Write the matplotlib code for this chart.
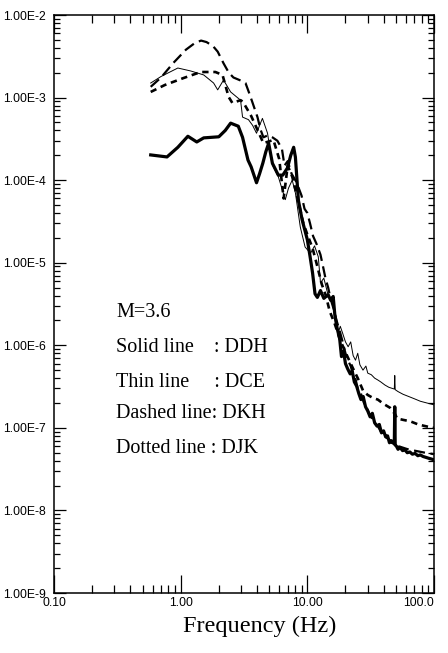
import numpy as np
import matplotlib
matplotlib.use("Agg")
import matplotlib.pyplot as plt
from matplotlib.ticker import LogLocator, FixedLocator, FixedFormatter, FuncFormatter, NullFormatter

# Fourier spectra, M=3.6 event, four stations: (frequency Hz, amplitude)
ddh = [(0.58, 2.02e-4), (0.78, 1.91e-4), (0.95, 2.5e-4), (1.14, 3.4e-4), (1.34, 2.9e-4),
       (1.52, 3.25e-4), (1.75, 3.3e-4), (2.0, 3.35e-4), (2.25, 4.0e-4), (2.48, 4.9e-4),
       (2.85, 4.5e-4), (3.08, 3.3e-4), (3.4, 1.75e-4), (3.6, 1.45e-4), (3.97, 9.3e-5),
       (4.2, 1.2e-4), (4.45, 1.6e-4), (4.7, 2.2e-4), (4.95, 2.8e-4), (5.3, 1.6e-4),
       (5.9, 1.15e-4), (6.4, 1.15e-4), (6.96, 1.4e-4), (7.4, 2.0e-4), (7.8, 2.5e-4),
       (8.05, 1.9e-4), (8.5, 5.7e-5), (9.1, 3.3e-5), (10.0, 1.9e-5), (10.5, 1.2e-5),
       (11.0, 7.5e-6), (11.5, 4.2e-6), (12.0, 3.8e-6), (12.7, 4.6e-6), (13.5, 3.7e-6),
       (14.6, 4.1e-6), (15.3, 3.5e-6), (16.0, 3.9e-6), (16.5, 2.3e-6), (17.2, 1.6e-6),
       (18.0, 1.2e-6), (18.6, 7.3e-7), (19.3, 8.5e-7), (20.0, 6.0e-7), (20.8, 5.2e-7),
       (21.8, 4.5e-7), (22.6, 4.9e-7), (23.5, 3.6e-7), (24.5, 3.2e-7), (25.5, 2.6e-7),
       (26.5, 2.2e-7), (27.6, 2.4e-7), (28.8, 1.8e-7), (30.0, 1.6e-7), (31.3, 1.36e-7),
       (32.6, 1.5e-7), (34.0, 1.15e-7), (35.5, 1.05e-7), (37.0, 1.1e-7), (38.5, 8.7e-8),
       (40.0, 9.2e-8), (41.5, 7.8e-8), (43.0, 8.0e-8), (44.5, 6.6e-8), (46.0, 7.0e-8),
       (48.6, 6.4e-8), (49.0, 1.8e-7), (49.4, 6.2e-8), (50.5, 6.0e-8), (52.0, 5.5e-8),
       (54.0, 5.8e-8), (56.5, 5.3e-8), (59.0, 5.4e-8), (61.5, 5.0e-8), (64.5, 5.1e-8),
       (67.5, 4.8e-8), (71.0, 4.9e-8), (74.5, 4.6e-8), (78.0, 4.7e-8), (82.0, 4.5e-8),
       (86.0, 4.4e-8), (90.0, 4.3e-8), (95.0, 4.2e-8), (100.0, 4.1e-8)]

dce = [(0.58, 1.5e-3), (0.7, 1.8e-3), (0.95, 2.28e-3), (1.2, 2.1e-3), (1.52, 1.88e-3),
       (1.82, 1.5e-3), (1.96, 1.24e-3), (2.18, 1.63e-3), (2.48, 1.17e-3), (2.97, 9.3e-4),
       (3.08, 5.8e-4), (3.43, 5.4e-4), (3.7, 4.6e-4), (3.97, 3.7e-4), (4.42, 5.6e-4),
       (4.85, 3.7e-4), (5.3, 1.53e-4), (5.9, 1.1e-4), (6.7, 5.8e-5), (7.1, 8.0e-5),
       (7.6, 1.0e-4), (8.05, 7.0e-5), (8.8, 2.7e-5), (9.6, 1.55e-5), (10.6, 1.3e-5),
       (11.4, 1.6e-5), (12.2, 1.18e-5), (12.7, 5.7e-6), (13.5, 6.5e-6), (14.5, 4.2e-6),
       (16.0, 3.3e-6), (17.0, 2.0e-6), (17.5, 1.4e-6), (18.2, 1.7e-6), (19.0, 1.4e-6),
       (20.0, 1.1e-6), (21.0, 9.6e-7), (22.0, 1.1e-6), (23.0, 7.5e-7), (24.0, 6.6e-7),
       (25.0, 8.0e-7), (26.0, 5.8e-7), (27.5, 5.0e-7), (29.0, 5.6e-7), (30.0, 4.6e-7),
       (32.0, 4.4e-7), (34.0, 4.0e-7), (36.0, 3.8e-7), (38.0, 3.6e-7), (41.0, 3.3e-7),
       (44.0, 3.1e-7), (48.6, 2.95e-7), (49.0, 4.3e-7), (49.4, 2.9e-7), (52.0, 2.75e-7),
       (57.0, 2.55e-7), (63.0, 2.4e-7), (70.0, 2.25e-7), (78.0, 2.1e-7), (88.0, 2.0e-7),
       (100.0, 1.9e-7)]

dkh = [(0.58, 1.35e-3), (0.7, 1.75e-3), (0.87, 2.6e-3), (1.1, 3.8e-3), (1.3, 4.6e-3),
       (1.45, 4.9e-3), (1.6, 4.7e-3), (1.8, 4.2e-3), (1.96, 3.6e-3), (2.18, 2.6e-3),
       (2.4, 2.0e-3), (2.61, 1.75e-3), (3.0, 1.6e-3), (3.25, 1.5e-3), (3.5, 1.1e-3),
       (3.7, 8.6e-4), (4.04, 5.8e-4), (4.27, 4.1e-4), (4.5, 3.3e-4), (4.9, 3.5e-4),
       (5.3, 3.3e-4), (5.8, 3.0e-4), (6.3, 2.4e-4), (6.6, 1.5e-4), (7.0, 1.7e-4),
       (7.5, 1.2e-4), (8.2, 9.5e-5), (9.0, 6.5e-5), (9.5, 4.5e-5), (10.0, 4.0e-5),
       (10.5, 3.0e-5), (11.1, 2.1e-5), (11.8, 1.7e-5), (12.7, 1.25e-5), (13.3, 9.0e-6),
       (13.9, 6.5e-6), (14.6, 5.0e-6), (15.3, 3.6e-6), (16.2, 2.7e-6), (17.0, 2.0e-6),
       (18.0, 1.5e-6), (19.0, 1.1e-6), (20.0, 8.0e-7), (21.0, 6.5e-7), (22.0, 5.6e-7),
       (23.0, 4.4e-7), (24.0, 3.9e-7), (25.0, 3.0e-7), (26.5, 2.6e-7), (28.0, 2.0e-7),
       (29.5, 1.75e-7), (31.0, 1.45e-7), (32.5, 1.3e-7), (34.0, 1.15e-7), (36.0, 1.05e-7),
       (38.0, 9.0e-8), (40.0, 8.6e-8), (42.0, 7.6e-8), (44.0, 7.3e-8), (46.0, 6.6e-8),
       (49.0, 6.4e-8), (52.0, 6.0e-8), (56.0, 5.8e-8), (60.0, 5.6e-8), (65.0, 5.4e-8),
       (70.0, 5.3e-8), (77.0, 5.15e-8), (85.0, 5.0e-8), (92.0, 4.9e-8), (100.0, 4.8e-8)]

djk = [(0.58, 1.17e-3), (0.75, 1.42e-3), (1.06, 1.73e-3), (1.44, 2.04e-3), (1.88, 2.04e-3),
       (2.14, 1.88e-3), (2.39, 1.02e-3), (2.56, 8.6e-4), (2.97, 9.3e-4), (3.1, 8.9e-4),
       (3.6, 6.0e-4), (4.0, 4.2e-4), (4.5, 2.8e-4), (5.4, 3.07e-4), (6.0, 1.8e-4),
       (6.5, 6.0e-5), (7.0, 1.5e-4), (7.6, 1.1e-4), (8.5, 5.5e-5), (9.3, 3.0e-5),
       (10.0, 2.2e-5), (11.0, 1.5e-5), (12.0, 9.0e-6), (13.0, 5.5e-6), (14.0, 4.0e-6),
       (15.0, 2.6e-6), (16.5, 1.8e-6), (18.0, 1.2e-6), (19.5, 9.0e-7), (21.0, 7.0e-7),
       (23.0, 5.2e-7), (25.0, 4.0e-7), (27.6, 2.8e-7), (30.0, 2.5e-7), (33.0, 2.3e-7),
       (36.0, 2.2e-7), (40.0, 1.95e-7), (45.0, 1.75e-7), (49.5, 1.45e-7), (51.0, 1.3e-7),
       (57.0, 1.25e-7), (65.0, 1.2e-7), (75.0, 1.1e-7), (90.0, 1.03e-7), (100.0, 1.0e-7)]

xticks = [0.1, 1, 10, 100]
xtick_labels = ["0.10", "1.00", "10.00", "100.0"]
yticks = [1e-9, 1e-8, 1e-7, 1e-6, 1e-5, 1e-4, 1e-3, 1e-2]
notes = ["M=3.6", "Solid line    : DDH", "Thin line     : DCE", "Dashed line: DKH", "Dotted line : DJK"]

tick_font = ["Liberation Sans", "DejaVu Sans"]
text_font = ["Liberation Serif", "DejaVu Serif"]


def split(pairs):
    return [p[0] for p in pairs], [p[1] for p in pairs]


fig = plt.figure(figsize=(4.48, 6.53), dpi=100)
ax = fig.add_axes([54 / 448, 1 - 593 / 653, 380 / 448, 578 / 653])

ax.plot(*split(ddh), color="black", lw=2.3)
ax.plot(*split(dce), color="black", lw=0.7)
ax.plot(*split(dkh), color="black", lw=1.6, dashes=(5, 2.5))
ax.plot(*split(djk), color="black", lw=1.9, dashes=(2.4, 1.8))

ax.set_xscale("log")
ax.set_yscale("log")
ax.set_xlim(0.1, 100)
ax.set_ylim(1e-9, 1e-2)

ax.xaxis.set_major_locator(FixedLocator(xticks))
ax.xaxis.set_major_formatter(FixedFormatter(xtick_labels))
ax.xaxis.set_minor_locator(LogLocator(base=10, subs=np.arange(2, 10), numticks=20))
ax.xaxis.set_minor_formatter(NullFormatter())
ax.yaxis.set_major_locator(FixedLocator(yticks))
ax.yaxis.set_major_formatter(FuncFormatter(lambda v, pos: "1.00E%d" % round(np.log10(v))))
ax.yaxis.set_minor_locator(LogLocator(base=10, subs=np.arange(2, 10), numticks=20))
ax.yaxis.set_minor_formatter(NullFormatter())

for s in ax.spines.values():
    s.set_linewidth(1.1)
ax.tick_params(which="both", direction="in", top=True, right=True, width=0.9, colors="black")
ax.tick_params(axis="x", which="major", length=13, pad=3)
ax.tick_params(axis="x", which="minor", length=5.5)
ax.tick_params(axis="y", which="major", length=8.6, pad=6)
ax.tick_params(axis="y", which="minor", length=4.5)
for lab in ax.get_xticklabels() + ax.get_yticklabels():
    lab.set_family(tick_font)
    lab.set_fontsize(8.8)
# last x label sits against the right edge of the figure
ax.get_xticklabels()[-1].set_horizontalalignment("right")

fig.text(260 / 448, 1 - 632 / 653, "Frequency (Hz)", ha="center", va="baseline",
         family=text_font, fontsize=17.5)

baselines = [317, 352, 387, 418, 453]
for txt, yb in zip(notes, baselines):
    fig.text(116 / 448, 1 - yb / 653, txt, ha="left", va="baseline",
             family=text_font, fontsize=14.5)

fig.savefig("out.png", dpi=100)
